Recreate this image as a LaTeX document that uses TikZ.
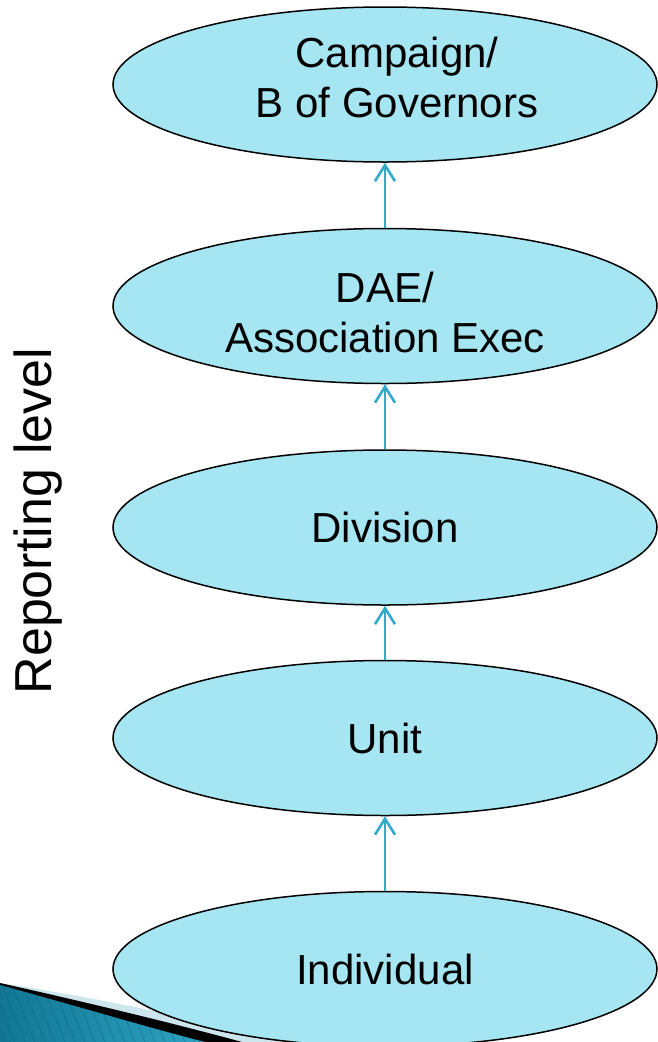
\documentclass[tikz,border=0pt]{standalone}
\usepackage{fontspec}
\setmainfont{Liberation Sans}
\usetikzlibrary{arrows.meta,shapes.geometric}

\definecolor{ovalfill}{RGB}{165,230,242}
\definecolor{linkblue}{RGB}{50,170,200}
\definecolor{swooshdark}{RGB}{18,118,148}
\definecolor{swooshlight}{RGB}{45,165,195}
\definecolor{swooshline}{RGB}{10,95,125}
\definecolor{swooshpale}{RGB}{205,230,238}

\begin{document}
\begin{tikzpicture}[x=1pt,y=-1pt,
  level/.style={ellipse, draw=black, line width=1.5pt, fill=ovalfill,
    minimum width=544pt, minimum height=155pt, inner sep=0pt,
    align=center, font=\fontsize{42}{50}\selectfont},
  link/.style={draw=linkblue, line width=2.6pt,
    -{Straight Barb[length=16pt,width=20pt]}},
  axislabel/.style={rotate=90, inner sep=0pt, font=\fontsize{52}{58}\selectfont}]

\useasboundingbox (0,0) rectangle (658,1042);

% corner swoosh, drawn beneath the ovals
\fill[swooshpale] (0,983) .. controls (110,1000) and (210,1022) .. (285,1042) -- (0,1042) -- cycle;
\fill[black] (0,983) .. controls (90,1003) and (180,1025) .. (242,1042) -- (0,1042) -- cycle;
\begin{scope}
  \clip (0,985) .. controls (80,1007) and (150,1028) .. (205,1042) -- (0,1042) -- cycle;
  \shade[left color=swooshdark, right color=swooshlight] (0,980) rectangle (210,1042);
  \foreach \k in {-40,-30,...,220}
    \draw[swooshline, line width=0.5pt, opacity=0.6] (\k,980) -- (\k+25,1042);
\end{scope}

% reporting levels (struts and indents set the placement of the two-line texts)
\node[level] (camp) at (385,84.5)
  {\hspace*{24pt}Campaign/\\\hspace*{24pt}B of Governors\rule[-15pt]{0pt}{15pt}};
\node[level] (dae)  at (385,306)  {\rule{0pt}{43pt}DAE/\\Association Exec};
\node[level] (div)  at (385,527.5) {Division};
\node[level] (unit) at (385,738)  {Unit};
\node[level] (ind)  at (385,969)  {Individual};

% upward reporting links
\draw[link] (ind.north)  -- (unit.south);
\draw[link] (unit.north) -- (div.south);
\draw[link] (div.north)  -- (dae.south);
\draw[link] (dae.north)  -- (camp.south);

% axis caption
\node[axislabel] (axis) at (38.5,521) {Reporting level};
\end{tikzpicture}
\end{document}
